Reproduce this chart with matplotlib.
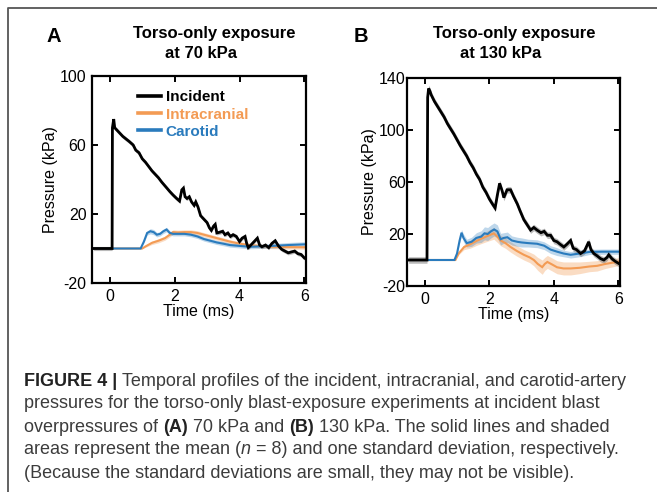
import numpy as np
import matplotlib
matplotlib.use("Agg")
import matplotlib.pyplot as plt
from matplotlib.lines import Line2D

plt.rcParams['font.family'] = ['Liberation Sans', 'DejaVu Sans']
plt.rcParams['axes.unicode_minus'] = False

# ---- panel A: torso-only, 70 kPa ----
inc_a_t = [-0.5, 0.07, 0.08, 0.12, 0.15, 0.2, 0.3, 0.4, 0.5, 0.6, 0.72, 0.8, 0.9, 1.0, 1.1,
           1.24, 1.3, 1.4, 1.5, 1.6, 1.76, 1.85, 1.95, 2.06, 2.15, 2.22, 2.27, 2.32, 2.38, 2.45,
           2.52, 2.6, 2.65, 2.72, 2.8, 2.9, 3.0, 3.07, 3.13, 3.2, 3.25, 3.3, 3.4, 3.48, 3.55,
           3.64, 3.72, 3.8, 3.9, 4.0, 4.08, 4.17, 4.22, 4.27, 4.35, 4.45, 4.55, 4.62, 4.69, 4.8,
           4.9, 5.0, 5.1, 5.2, 5.3, 5.4, 5.5, 5.6, 5.7, 5.8, 5.9, 6.0]
inc_a_v = [0, 0, 70, 75, 70, 69, 67, 65, 63.5, 62, 60, 57, 55.5, 52, 50,
           46.5, 45, 43, 41, 38.5, 35, 33, 31, 29, 27.5, 34, 35, 30, 29, 30,
           27, 25, 27, 24, 19, 17, 15, 12, 10.5, 13, 14, 9, 9.5, 10, 8,
           9, 7, 8, 7, 4, 6, 7, 3, 0.5, 2, 4, 6, 2, 1, 2,
           0.5, 3, 4.5, 1.5, -0.5, -1.5, -2.5, -2, -1.5, -3, -3.5, -5.5]
inc_a_sd = 1.2

icp_a_t = [-0.5, 1.0, 1.1, 1.3, 1.5, 1.7, 1.85, 1.95, 2.1, 2.3, 2.5, 2.7, 2.9, 3.1, 3.3,
           3.5, 3.7, 3.9, 4.1, 4.3, 4.6, 5.0, 5.5, 6.0]
icp_a_v = [0, 0, 1.2, 3.3, 4.5, 6, 8, 9.5, 9.3, 9.5, 9.5, 9, 8, 7, 6,
           5, 4, 3.2, 2.5, 2, 1.5, 1, 0.8, 0.7]
icp_a_sd = [0, 0, 0.5, 1, 1.2, 1.2, 1.3, 1.3, 1.3, 1.3, 1.3, 1.3, 1.2, 1.2, 1.2,
            1.2, 1.1, 1.1, 1.1, 1.1, 1.1, 1.1, 1.1, 1.1]

car_a_t = [-0.5, 0.95, 1.05, 1.15, 1.25, 1.35, 1.45, 1.55, 1.65, 1.75, 1.85, 1.95, 2.1, 2.3,
           2.5, 2.7, 2.9, 3.1, 3.3, 3.5, 3.7, 4.0, 4.3, 4.6, 5.0, 5.5, 6.0]
car_a_v = [0, 0, 4, 9, 10, 9.5, 8, 8.5, 10, 11, 9, 8.5, 8.5, 8.5,
           8, 7, 5.5, 4.5, 3.5, 2.8, 2, 1.5, 1, 1.2, 1.5, 2, 2.4]
car_a_sd = [0, 0, 0.8, 1.2, 1.5, 1.5, 1.3, 1.2, 1.3, 1.3, 1.2, 1.2, 1.2, 1.2,
            1.2, 1.2, 1.2, 1.2, 1.2, 1.2, 1.2, 1.2, 1.2, 1.2, 1.3, 1.5, 1.5]

# ---- panel B: torso-only, 130 kPa ----
inc_b_t = [-0.5, 0.07, 0.09, 0.12, 0.16, 0.2, 0.3, 0.4, 0.5, 0.6, 0.7, 0.8, 0.9, 1.0, 1.1,
           1.2, 1.3, 1.4, 1.5, 1.6, 1.7, 1.8, 1.9, 2.0, 2.1, 2.18, 2.25, 2.32, 2.4, 2.45,
           2.55, 2.66, 2.75, 2.87, 2.95, 3.07, 3.15, 3.28, 3.38, 3.48, 3.6, 3.7, 3.8, 3.9, 4.0,
           4.1, 4.2, 4.31, 4.4, 4.52, 4.6, 4.7, 4.83, 4.95, 5.08, 5.15, 5.24, 5.35, 5.45, 5.55,
           5.65, 5.7, 5.8, 5.9, 6.0]
inc_b_v = [0, 0, 125, 132, 130, 127, 122, 118, 114, 110, 105, 101, 97, 92.5, 88,
           84, 80, 75, 71, 66, 62, 56, 52, 47, 43, 40, 50, 59, 53, 48,
           54, 54, 49, 43, 38, 31, 28, 23, 25, 23, 21, 22, 19, 19, 15,
           14, 12, 10, 12, 15, 9, 8, 5, 7, 14, 8, 5, 3, 1, 0,
           2, 4, 1, -1, -2.5]
inc_b_sd = 2.5

icp_b_t = [-0.5, 0.95, 1.05, 1.22, 1.4, 1.63, 1.9, 2.14, 2.25, 2.35, 2.5, 2.66, 2.85, 3.07,
           3.25, 3.38, 3.5, 3.64, 3.72, 3.8, 3.95, 4.1, 4.3, 4.52, 4.8, 5.1, 5.34, 5.6, 6.0]
icp_b_v = [0, 0, 5, 10, 12, 15, 18, 20.5, 18, 15, 13, 10, 7, 4,
           2, 0, -3, -5.5, -3, -1.5, -3.5, -5.6, -6.5, -6.5, -6, -5, -4.5, -3, -1.3]
icp_b_sd = [0, 0, 1, 2, 3, 3.5, 4, 4.5, 4.5, 4, 4, 4, 4, 4,
            4, 4.5, 5, 5.5, 5, 5, 5, 5, 5, 5, 4.5, 4, 4, 3.5, 3]

car_b_t = [-0.5, 0.92, 1.0, 1.08, 1.14, 1.2, 1.3, 1.45, 1.6, 1.75, 1.85, 1.95, 2.05, 2.15,
           2.25, 2.35, 2.45, 2.56, 2.7, 2.87, 3.0, 3.2, 3.48, 3.7, 3.9, 4.1, 4.3, 4.52, 4.8,
           5.1, 5.5, 6.0]
car_b_v = [0, 0, 5, 15, 21, 17, 13, 14, 17, 18, 20.5, 20, 22, 23.5,
           22, 16, 17, 17.5, 15, 14, 13.5, 13, 12.5, 11, 8, 6.4, 5, 4, 5,
           6.2, 6.4, 6.4]
car_b_sd = [0, 0, 1, 2, 2.5, 3, 3, 3.5, 4, 4.5, 5, 5, 5, 5,
            5, 4.5, 4, 4, 3.5, 3.5, 3.5, 3, 3, 3, 3, 3, 2.5, 2.5, 2.5,
            2, 2, 2]

xticks = [0, 2, 4, 6]
yticks_a = [-20, 20, 60, 100]
yticks_b = [-20, 20, 60, 100, 140]

c_inc = 'black'
c_icp = '#f39b54'
c_car = '#2a7bbd'

W, H = 657, 492
fig = plt.figure(figsize=(W / 100, H / 100), dpi=100)


def px_box(l, t, r, b):
    return [l / W, 1 - b / H, (r - l) / W, (b - t) / H]


def band(ax, t, v, sd, color, band_color, alpha, lw):
    t = np.asarray(t, float)
    v = np.asarray(v, float)
    sd = np.asarray(sd, float) * np.ones_like(v)
    ax.fill_between(t, v - sd, v + sd, color=band_color, alpha=alpha, lw=0)
    ax.plot(t, v, color=color, lw=lw, solid_joinstyle='miter')


def style(ax, ylim, yticks, ypad):
    ax.set_xlim(-0.55, 6.05)
    ax.set_ylim(*ylim)
    ax.set_xticks(xticks)
    ax.set_yticks(yticks)
    ax.tick_params(direction='in', top=True, right=True, length=4.5, width=1.4,
                   labelsize=11.5, pad=4)
    ax.tick_params(axis='y', pad=ypad)
    for s in ax.spines.values():
        s.set_linewidth(1.6)
    ax.set_xlabel('Time (ms)', fontsize=11.5, labelpad=0.5)
    ax.set_ylabel('Pressure (kPa)', fontsize=11.5, labelpad=1)


axA = fig.add_axes(px_box(92, 76, 306, 283))
band(axA, icp_a_t, icp_a_v, icp_a_sd, c_icp, c_icp, 0.35, 1.5)
band(axA, car_a_t, car_a_v, car_a_sd, c_car, c_car, 0.3, 1.5)
band(axA, inc_a_t, inc_a_v, inc_a_sd, c_inc, '#777777', 0.5, 2.0)
style(axA, (-20, 100), yticks_a, 4)

axB = fig.add_axes(px_box(407, 78, 620, 286))
band(axB, icp_b_t, icp_b_v, icp_b_sd, c_icp, c_icp, 0.35, 1.5)
band(axB, car_b_t, car_b_v, car_b_sd, c_car, c_car, 0.3, 1.5)
band(axB, inc_b_t, inc_b_v, inc_b_sd, c_inc, '#777777', 0.5, 2.0)
style(axB, (-20, 140), yticks_b, 1)

handles = [Line2D([], [], color=c, lw=2.6) for c in (c_inc, c_icp, c_car)]
leg = axA.legend(handles, ['Incident', 'Intracranial', 'Carotid'], loc='upper left',
                 bbox_to_anchor=(0.215, 0.93), frameon=False, handlelength=1.5,
                 handletextpad=0.3, labelspacing=0.2, borderpad=0, borderaxespad=0,
                 prop={'weight': 'bold', 'size': 11})
for txt, c in zip(leg.get_texts(), (c_inc, c_icp, c_car)):
    txt.set_color(c)

# panel letters and titles
fig.text(54 / W, 1 - 36 / H, 'A', fontsize=14.5, fontweight='bold', ha='center', va='center')
fig.text(214 / W, 1 - 33 / H, 'Torso-only exposure', fontsize=12, fontweight='bold',
         ha='center', va='center')
fig.text(201 / W, 1 - 53 / H, 'at 70 kPa', fontsize=12, fontweight='bold',
         ha='center', va='center')
fig.text(361 / W, 1 - 36 / H, 'B', fontsize=14.5, fontweight='bold', ha='center', va='center')
fig.text(514 / W, 1 - 33 / H, 'Torso-only exposure', fontsize=12, fontweight='bold',
         ha='center', va='center')
fig.text(501 / W, 1 - 53 / H, 'at 130 kPa', fontsize=12, fontweight='bold',
         ha='center', va='center')

# frame (left and top edges of the cropped figure panel)
fig.add_artist(Line2D([8 / W, 8 / W, 1], [0, 1 - 8 / H, 1 - 8 / H],
                      transform=fig.transFigure, color='#555555', lw=1.3))

# caption, drawn segment by segment to mix bold / italic
cap_family = ['Liberation Sans', 'DejaVu Sans']
cap_size = 13
cap_lines = [
    [('FIGURE 4 |', 'bold', 'normal', False),
     ('Temporal profiles of the incident, intracranial, and carotid-artery', 'normal', 'normal', True)],
    [('pressures for the torso-only blast-exposure experiments at incident blast', 'normal', 'normal', False)],
    [('overpressures of', 'normal', 'normal', False), ('(A)', 'bold', 'normal', True),
     ('70 kPa and', 'normal', 'normal', True), ('(B)', 'bold', 'normal', True),
     ('130 kPa. The solid lines and shaded', 'normal', 'normal', True)],
    [('areas represent the mean (', 'normal', 'normal', False), ('n', 'normal', 'italic', False),
     ('= 8) and one standard deviation, respectively.', 'normal', 'normal', True)],
    [('(Because the standard deviations are small, they may not be visible).', 'normal', 'normal', False)],
]
cap_y = [381, 404, 427, 450, 473]

renderer = fig.canvas.get_renderer()
probe1 = fig.text(0, 0, 'aa', family=cap_family, fontsize=cap_size)
probe2 = fig.text(0, 0, 'a a', family=cap_family, fontsize=cap_size)
space_w = probe2.get_window_extent(renderer).width - probe1.get_window_extent(renderer).width
probe1.remove()
probe2.remove()

for segs, y in zip(cap_lines, cap_y):
    x = 24
    for s, w, st, gap in segs:
        if gap:
            x += space_w
        t = fig.text(x / W, 1 - y / H, s, family=cap_family, fontsize=cap_size,
                     fontweight=w, fontstyle=st, va='center', ha='left',
                     color='#222222' if w == 'bold' else '#3c3c3c')
        x += t.get_window_extent(renderer).width

fig.savefig('out.png', dpi=100)
